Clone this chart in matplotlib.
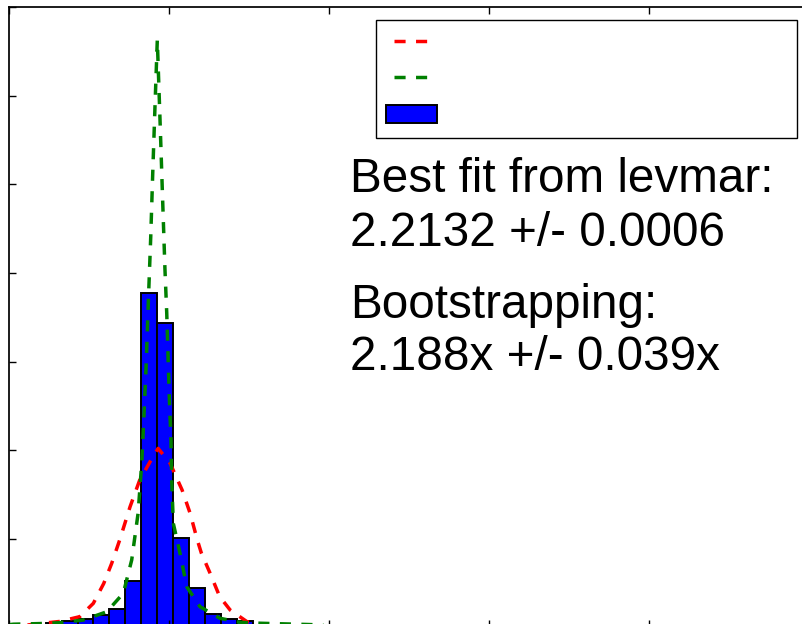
import matplotlib
matplotlib.use("Agg")
import matplotlib.pyplot as plt
from matplotlib.ticker import MultipleLocator

DPI = 100

# bootstrap histogram (normed)
bin_edges = [2.046, 2.066, 2.086, 2.105, 2.125, 2.145, 2.165, 2.185,
             2.205, 2.225, 2.245, 2.265, 2.285, 2.305]
bin_density = [0.27, 0.37, 0.48, 0.70, 1.03, 2.63, 18.89, 17.16,
               5.02, 2.20, 0.73, 0.47, 0.33]

# gaussian from bootstrap mean / std (red dashed)
gauss_x = [2.000, 2.038, 2.063, 2.088, 2.105, 2.118, 2.128, 2.138, 2.151,
           2.163, 2.176, 2.186, 2.201, 2.216, 2.226, 2.235, 2.240, 2.251,
           2.263, 2.276, 2.297, 2.320, 2.360, 2.400]
gauss_y = [0.01, 0.21, 0.33, 0.60, 1.35, 2.47, 3.61, 4.93, 6.81,
           8.31, 9.35, 10.10, 9.26, 7.75, 6.44, 4.93, 4.20, 3.05,
           1.73, 0.98, 0.32, 0.13, 0.02, 0.00]

# levmar fit curve (green dashed)
fit_x = [2.000, 2.005, 2.038, 2.063, 2.0925, 2.122, 2.1425, 2.153, 2.161,
         2.1655, 2.1675, 2.171, 2.1738, 2.1768, 2.1793, 2.1821, 2.185,
         2.1884, 2.1918, 2.1946, 2.1968, 2.200, 2.2021, 2.203, 2.205,
         2.2134, 2.2218, 2.2384, 2.2634, 2.2884, 2.3134, 2.3384, 2.372,
         2.413, 2.450]
fit_y = [0.15, 0.175, 0.21, 0.26, 0.41, 0.88, 1.92, 3.80, 6.44,
         9.26, 11.14, 14.71, 18.38, 22.05, 25.65, 29.39, 33.15,
         28.64, 23.95, 20.17, 17.74, 13.02, 10.57, 8.32, 5.87,
         4.18, 2.29, 1.16, 0.51, 0.28, 0.23, 0.20, 0.16,
         0.10, 0.08]

text_levmar = "Best fit from levmar:\n2.2132 +/- 0.0006"
text_boot = "Bootstrapping:\n2.188x +/- 0.039x"

plt.rcParams["font.family"] = ["Liberation Sans", "DejaVu Sans"]
plt.rcParams["lines.scale_dashes"] = False

W, H = 802, 624
fig = plt.figure(figsize=(W / DPI, H / DPI), dpi=DPI)
# the visible picture is a crop: right and bottom spines sit just off the canvas
ax = fig.add_axes([9.3 / W, -3.3 / H, 800 / W, 620 / H])

widths = [b - a for a, b in zip(bin_edges[:-1], bin_edges[1:])]
bars = ax.bar(bin_edges[:-1], bin_density, width=widths, align="edge",
              color="#0000ff", edgecolor="black", linewidth=1.4)

l_red, = ax.plot(gauss_x, gauss_y, color="red", linewidth=2.5,
                 linestyle="--", dashes=(8, 7.5))
l_green, = ax.plot(fit_x, fit_y, color="#008000", linewidth=2.5,
                   linestyle="--", dashes=(8, 7.5))

ax.set_xlim(2.0, 3.0)
ax.set_ylim(0, 35)
ax.xaxis.set_major_locator(MultipleLocator(0.2))
ax.yaxis.set_major_locator(MultipleLocator(5))
ax.tick_params(direction="in", length=5, width=1, top=True, right=True,
               labelbottom=False, labelleft=False)
for sp in ax.spines.values():
    sp.set_linewidth(1.25)

leg = ax.legend([l_red, l_green, bars], [" ", " ", " "], loc="upper left",
                bbox_to_anchor=(376.3 / W, 1 - 20.3 / H, 420.4 / W, 0),
                bbox_transform=fig.transFigure, mode="expand",
                borderaxespad=0, fontsize=18.2, numpoints=2,
                handlelength=2, handleheight=0.7, handletextpad=0.8,
                borderpad=0.4, labelspacing=0.5, fancybox=False,
                framealpha=1)
leg.get_frame().set_edgecolor("black")
leg.get_frame().set_linewidth(1.0)

fig.text(350 / W, 1 - 157.5 / H, text_levmar, fontsize=34.3,
         ha="left", va="top", linespacing=1.25)
fig.text(350 / W, 1 - 282.5 / H, text_boot, fontsize=34.3,
         ha="left", va="top", linespacing=1.22)

fig.savefig("out.png", dpi=DPI)
plt.close(fig)
